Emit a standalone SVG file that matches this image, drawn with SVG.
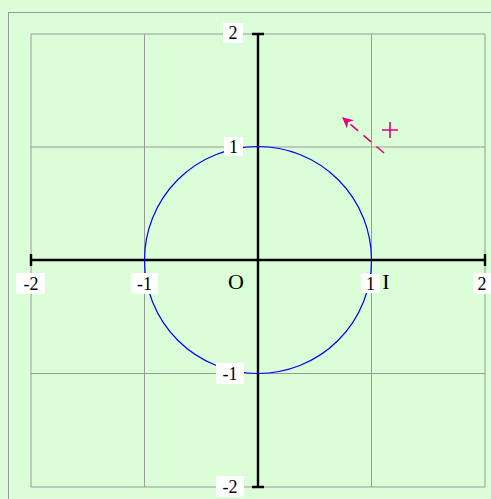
<svg xmlns="http://www.w3.org/2000/svg" width="491" height="499" viewBox="0 0 491 499">
<style>
.grid{stroke:#999;stroke-width:1;fill:none}
.axis{stroke:#000;stroke-width:2.4;fill:none}
.lbl{font-family:"Liberation Serif",serif;font-size:18px;text-anchor:middle;fill:#000}
.big{font-family:"Liberation Serif",serif;font-size:22px;text-anchor:middle;fill:#000}
.bg{fill:#fff}
.mg{stroke:#e5007d;stroke-width:1.6;fill:none}
</style>
<defs>
<marker id="ah" viewBox="0 0 10 10" refX="9" refY="5" markerWidth="11" markerHeight="11" markerUnits="userSpaceOnUse" orient="auto">
<path d="M0,0 L10,5 L0,10 L3,5 Z" fill="#e5007d"/>
</marker>
</defs>
<rect x="0" y="0" width="491" height="499" fill="#dbfdd8"/>
<rect x="8.5" y="12.5" width="490" height="490" fill="none" stroke="#999" stroke-width="1"/>
<g id="grid">
<path class="grid" d="M31,34V487M144.5,34V487M371.5,34V487M485,34V487M31,34H485M31,147H485M31,373.5H485M31,487H485"/>
</g>
<g id="axes">
<path class="axis" d="M31,260H485M31,254V266M485,254V266M258,34V487M252,34H264M252,487H264"/>
</g>
<g id="circle">
<circle cx="258" cy="260" r="113.5" fill="none" stroke="#0000ff" stroke-width="1.2"/>
</g>
<g id="labels">
<rect class="bg" x="16" y="273" width="29" height="21"/><text class="lbl" x="31" y="290">-2</text>
<rect class="bg" x="131" y="273" width="27" height="21"/><text class="lbl" x="144.5" y="290">-1</text>
<rect class="bg" x="361" y="274" width="19" height="19"/><text class="lbl" x="370.5" y="290">1</text>
<rect class="bg" x="473" y="273" width="18" height="21"/><text class="lbl" x="482" y="290">2</text>
<rect class="bg" x="223" y="23" width="20" height="20"/><text class="lbl" x="233" y="39">2</text>
<rect class="bg" x="224" y="137" width="19" height="19"/><text class="lbl" x="233.5" y="153">1</text>
<rect class="bg" x="216" y="363" width="28" height="21"/><text class="lbl" x="230" y="380">-1</text>
<rect class="bg" x="216" y="476" width="28" height="21"/><text class="lbl" x="230" y="493">-2</text>
<text class="big" x="236" y="289">O</text>
<text class="big" x="386" y="289">I</text>
</g>
<g id="vector">
<path class="mg" d="M384,153 L343,118" stroke-dasharray="10,7" marker-end="url(#ah)"/>
<path class="mg" d="M382,130H398M390,122V138"/>
</g>
</svg>
